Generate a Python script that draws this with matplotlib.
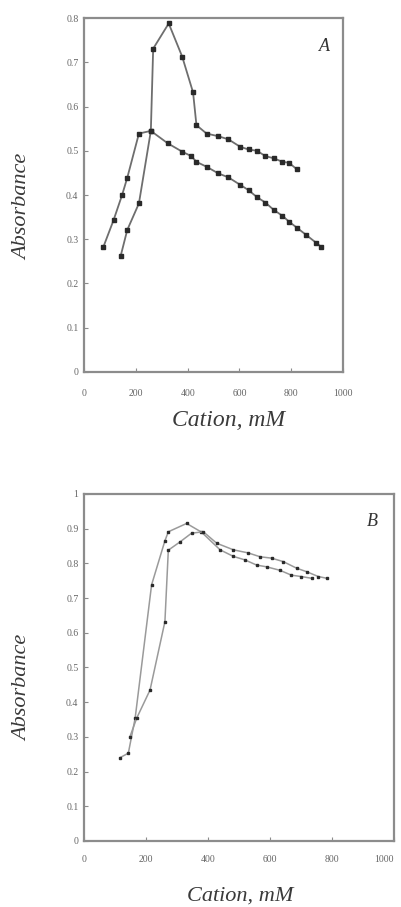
import matplotlib
matplotlib.use('Agg')
import matplotlib.pyplot as plt

# Panel A: cation concentration (mM) vs absorbance
a1_x = [75, 114, 147, 167, 212, 258, 323, 379, 414, 434, 473, 518, 557, 603,
        635, 668, 700, 733, 766, 791, 824, 857, 896, 915]
a1_y = [0.283, 0.343, 0.400, 0.439, 0.539, 0.545, 0.517, 0.498, 0.488, 0.475,
        0.464, 0.449, 0.440, 0.423, 0.411, 0.395, 0.383, 0.366, 0.353, 0.340,
        0.325, 0.310, 0.292, 0.283]
a2_x = [141, 167, 212, 258, 267, 327, 379, 421, 434, 473, 518, 557, 603, 635,
        668, 700, 733, 766, 791, 822]
a2_y = [0.261, 0.321, 0.381, 0.545, 0.731, 0.788, 0.713, 0.632, 0.558, 0.539,
        0.533, 0.526, 0.509, 0.503, 0.500, 0.488, 0.483, 0.475, 0.473, 0.458]

# Panel B
b1_x = [116, 143, 165, 218, 261, 272, 331, 379, 439, 482, 519, 557, 589, 632,
        669, 701, 734]
b1_y = [0.240, 0.253, 0.354, 0.738, 0.865, 0.891, 0.915, 0.890, 0.839, 0.820,
        0.810, 0.795, 0.790, 0.780, 0.766, 0.762, 0.757]
b2_x = [148, 170, 213, 261, 272, 310, 347, 385, 428, 482, 530, 568, 605, 643,
        686, 718, 756, 783]
b2_y = [0.300, 0.354, 0.435, 0.632, 0.838, 0.862, 0.887, 0.891, 0.858, 0.839,
        0.830, 0.819, 0.815, 0.805, 0.786, 0.776, 0.762, 0.757]

a_yticks = [0, 0.1, 0.2, 0.3, 0.4, 0.5, 0.6, 0.7, 0.8]
a_ylabels = ['0', '0.1', '0.2', '0.3', '0.4', '0.5', '0.6', '0.7', '0.8']
b_yticks = [0, 0.1, 0.2, 0.3, 0.4, 0.5, 0.6, 0.7, 0.8, 0.9, 1.0]
b_ylabels = ['0', '0.1', '0.2', '0.3', '0.4', '0.5', '0.6', '0.7', '0.8', '0.9', '1']
xticks = [0, 200, 400, 600, 800, 1000]
xlabels = ['0', '200', '400', '600', '800', '1000']

serif = ['Liberation Serif', 'DejaVu Serif']
line_col = '#6e6e6e'
mark_col = '#2a2a2a'
spine_col = '#8c8c8c'

fig = plt.figure(figsize=(4.01, 9.07), dpi=100)
axA = fig.add_axes([0.2095, 0.590, 0.646, 0.390])
axB = fig.add_axes([0.2095, 0.0728, 0.773, 0.3826])


def style(ax, yticks, ylabels, ylim, letter, xpad, xl_pos, yl_pos, xl_size):
    ax.set_xlim(0, 1000)
    ax.set_ylim(*ylim)
    ax.set_xticks(xticks)
    ax.set_xticklabels(xlabels, family=serif, fontsize=7, color='#666666')
    ax.set_yticks(yticks)
    ax.set_yticklabels(ylabels, family=serif, fontsize=7, color='#666666')
    ax.tick_params(direction='in', length=3, width=0.8, color=spine_col)
    ax.tick_params(axis='x', pad=xpad)
    ax.tick_params(axis='y', pad=4)
    for s in ax.spines.values():
        s.set_color(spine_col)
        s.set_linewidth(1.6)
    ax.set_xlabel('Cation, mM', family=serif, style='italic', fontsize=xl_size,
                  color='#3a3a3a', va='center')
    ax.xaxis.set_label_coords(*xl_pos)
    ax.set_ylabel('Absorbance', family=serif, style='italic', fontsize=16,
                  color='#3a3a3a', va='center')
    ax.yaxis.set_label_coords(*yl_pos)
    ax.text(0.93, 0.92, letter, transform=ax.transAxes, family=serif,
            style='italic', fontsize=13, color='#333333', ha='center', va='center')


axA.plot(a1_x, a1_y, color=line_col, lw=1.3, marker='s', ms=3,
         mfc=mark_col, mec=mark_col)
axA.plot(a2_x, a2_y, color=line_col, lw=1.3, marker='s', ms=3,
         mfc=mark_col, mec=mark_col)
style(axA, a_yticks, a_ylabels, (0, 0.8), 'A', 12, (0.556, -0.138), (-0.236, 0.466), 17)

axB.plot(b1_x, b1_y, color='#9a9a9a', lw=1.1, marker='s', ms=2,
         mfc=mark_col, mec=mark_col)
axB.plot(b2_x, b2_y, color='#9a9a9a', lw=1.1, marker='s', ms=2,
         mfc=mark_col, mec=mark_col)
style(axB, b_yticks, b_ylabels, (0, 1.0), 'B', 10, (0.503, -0.158), (-0.197, 0.44), 16)
# last x tick label sits at the figure edge; keep it inside
axB.get_xticklabels()[-1].set_ha('right')

fig.savefig('out.png', dpi=100, facecolor='white')
